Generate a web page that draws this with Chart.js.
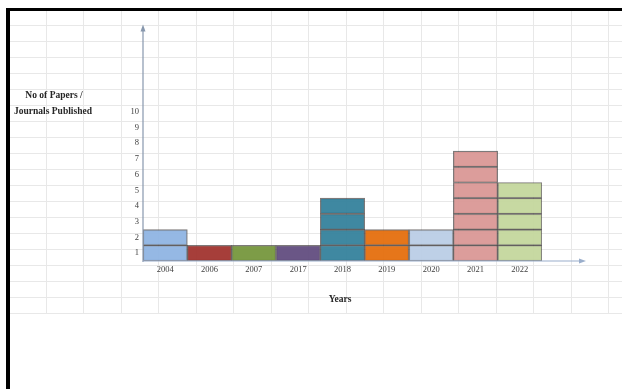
<!DOCTYPE html>
<html>
<head>
<meta charset="utf-8">
<script src="https://cdn.jsdelivr.net/npm/chart.js@4"></script>
<style>
  html, body { margin: 0; padding: 0; background: #fff; }
  #wrap { width: 622px; height: 389px; }
</style>
</head>
<body>
<div id="wrap"><canvas id="chart" width="622" height="389"></canvas></div>
<script>
const years = ["2004", "2006", "2007", "2017", "2018", "2019", "2020", "2021", "2022"];
const papers = [2, 1, 1, 1, 4, 2, 2, 7, 5];
const barColors = ["#8db3e2", "#a0302c", "#74953a", "#5f4a7d", "#31809a", "#e46c0a", "#b9cde5", "#d99694", "#c3d69b"];
const yTickLabels = ["1", "2", "3", "4", "5", "6", "7", "8", "9", "10"];

// one stacked layer per unit, so each bar is made of 1-unit blocks
const maxVal = Math.max(...papers);
const datasets = [];
for (let k = 1; k <= maxVal; k++) {
  datasets.push({
    data: papers.map((v) => (v >= k ? 1 : null)),
    backgroundColor: barColors.map((c) => c + "ee"),
    borderColor: "rgba(55,50,50,0.65)",
    borderWidth: 1.2,
    borderSkipped: false,
    categoryPercentage: 1,
    barPercentage: 1,
  });
}

const sheetPlugin = {
  id: "sheet",
  beforeDraw(chart) {
    const c = chart.ctx;
    c.save();
    c.fillStyle = "#fff";
    c.fillRect(0, 0, chart.width, chart.height);
    // spreadsheet grid
    c.strokeStyle = "#e8e8e8";
    c.lineWidth = 1;
    for (let x = 45.5; x < 622; x += 37.5) {
      c.beginPath();
      c.moveTo(Math.round(x) + 0.5, 11);
      c.lineTo(Math.round(x) + 0.5, 313);
      c.stroke();
    }
    for (let y = 25; y <= 313; y += 16) {
      c.beginPath();
      c.moveTo(10, y + 0.5);
      c.lineTo(622, y + 0.5);
      c.stroke();
    }
    // black frame
    c.fillStyle = "#000";
    c.fillRect(6, 8, 616, 3);
    c.fillRect(6, 8, 4, 381);
    c.restore();
  },
  afterDraw(chart) {
    const c = chart.ctx;
    const a = chart.chartArea;
    c.save();
    // y axis with arrow
    c.strokeStyle = "#8797ad";
    c.fillStyle = "#8797ad";
    c.lineWidth = 1.2;
    c.beginPath();
    c.moveTo(a.left, a.bottom + 1);
    c.lineTo(a.left, a.top + 2);
    c.stroke();
    c.beginPath();
    c.moveTo(a.left, a.top - 1);
    c.lineTo(a.left - 2.5, a.top + 6);
    c.lineTo(a.left + 2.5, a.top + 6);
    c.closePath();
    c.fill();
    // x axis with arrow
    c.strokeStyle = "#9aaecb";
    c.fillStyle = "#9aaecb";
    c.beginPath();
    c.moveTo(a.left, a.bottom);
    c.lineTo(a.right + 40, a.bottom);
    c.stroke();
    c.beginPath();
    c.moveTo(a.right + 44, a.bottom);
    c.lineTo(a.right + 37, a.bottom - 2.5);
    c.lineTo(a.right + 37, a.bottom + 2.5);
    c.closePath();
    c.fill();
    // titles
    c.fillStyle = "#262626";
    c.font = "bold 9.5px 'Liberation Serif'";
    c.textAlign = "center";
    c.textBaseline = "middle";
    c.fillText("No of Papers /", 54, 96);
    c.fillText("Journals Published", 53, 112);
    c.fillText("Years", 340, 300);
    c.restore();
  },
};

new Chart(document.getElementById("chart"), {
  type: "bar",
  data: { labels: years, datasets: datasets },
  options: {
    responsive: false,
    animation: false,
    layout: { padding: { top: 25.5, right: 80, left: 0, bottom: 0 } },
    plugins: { legend: { display: false }, tooltip: { enabled: false } },
    scales: {
      x: {
        stacked: true,
        grid: { display: false, drawTicks: false },
        border: { display: false },
        ticks: { color: "#404040", font: { family: "'Liberation Serif'", size: 8.5 }, padding: 4, maxRotation: 0 },
        afterFit: (s) => { s.height = 389 - 261; },
      },
      y: {
        stacked: true,
        min: 0,
        max: 15,
        grid: { display: false, drawTicks: false },
        border: { display: false },
        ticks: {
          stepSize: 0.5,
          autoSkip: false,
          color: "#404040",
          font: { family: "'Liberation Serif'", size: 8.5 },
          padding: 4,
          callback: (v) => {
            const i = v - 0.5;
            return Number.isInteger(i) && i >= 0 && i < yTickLabels.length ? yTickLabels[i] : "";
          },
        },
        afterFit: (s) => { s.width = 143; },
      },
    },
  },
  plugins: [sheetPlugin],
});
</script>
</body>
</html>
